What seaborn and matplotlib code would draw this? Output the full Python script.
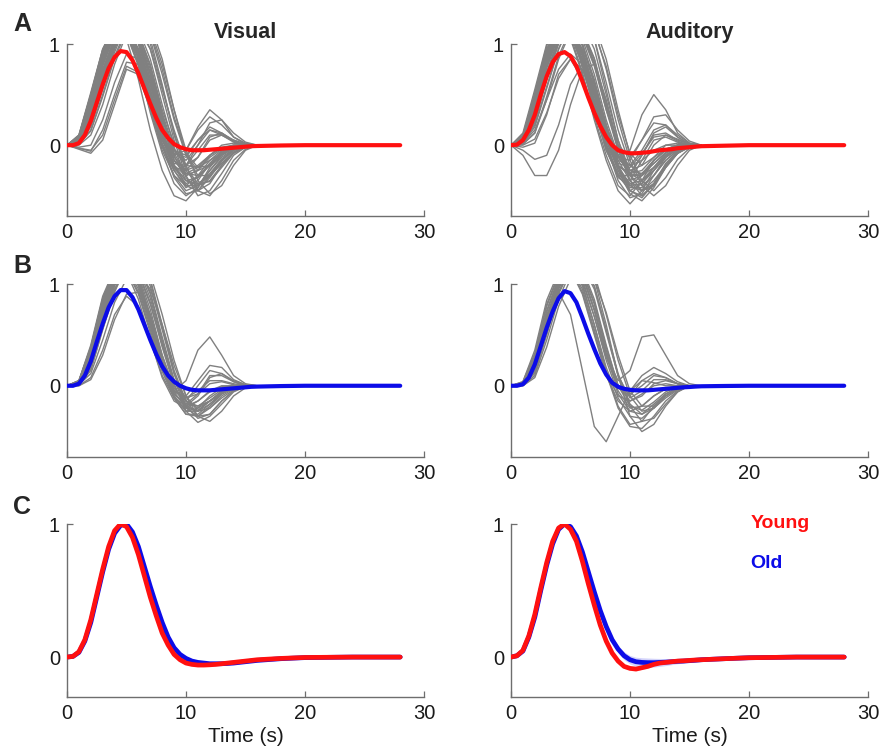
import numpy as np
import pandas as pd
from matplotlib import pyplot as plt
import seaborn as sns

# time grids (s)
T_SUBJ = list(range(0, 17))
T_MEAN = [0, 0.5, 1, 1.5, 2, 2.5, 3, 3.5, 4, 4.5, 5, 5.5, 6, 6.5, 7, 7.5, 8, 8.5,
          9, 9.5, 10, 10.5, 11, 11.5, 12, 12.5, 13, 13.5, 14, 14.5, 15, 15.5, 16,
          18, 20, 24, 28]

# ---- single-subject HRFs at 1 s steps (0..16 s) ----
VIS_YOUNG_SUBJ = [
    [0, 0.10, 0.50, 0.95, 1.20, 1.15, 0.85, 0.40, 0.00, -0.30, -0.45, -0.40, -0.25, -0.12, -0.04, 0.00, 0.00],
    [0, 0.05, 0.35, 0.80, 1.10, 1.20, 1.00, 0.60, 0.15, -0.20, -0.40, -0.45, -0.32, -0.16, -0.05, -0.01, 0.00],
    [0, 0.03, 0.25, 0.65, 1.00, 1.25, 1.25, 1.05, 0.60, 0.10, -0.25, -0.40, -0.35, -0.20, -0.07, -0.01, 0.00],
    [0, 0.06, 0.40, 0.85, 1.15, 1.20, 1.05, 0.70, 0.25, -0.05, -0.10, 0.05, 0.15, 0.10, 0.03, 0.00, 0.00],
    [0, 0.02, 0.20, 0.60, 0.95, 1.20, 1.30, 1.20, 0.85, 0.35, -0.10, -0.30, -0.30, -0.18, -0.07, -0.02, 0.00],
    [0, 0.08, 0.45, 0.90, 1.15, 1.10, 0.80, 0.35, -0.05, -0.30, -0.40, -0.30, -0.15, -0.05, -0.01, 0.00, 0.00],
    [0, 0.04, 0.30, 0.75, 1.05, 1.15, 0.95, 0.55, 0.10, -0.10, -0.05, 0.15, 0.28, 0.20, 0.08, 0.02, 0.00],
    [0, -0.04, -0.08, 0.05, 0.40, 0.75, 0.70, 0.35, 0.00, -0.25, -0.40, -0.40, -0.28, -0.14, -0.05, -0.01, 0.00],
    [0, -0.03, -0.06, 0.15, 0.50, 0.82, 0.80, 0.45, 0.05, -0.20, -0.30, -0.25, -0.12, -0.04, 0.00, 0.00, 0.00],
    [0, 0.00, 0.10, 0.40, 0.80, 1.10, 1.15, 0.95, 0.55, 0.15, -0.20, -0.45, -0.50, -0.35, -0.15, -0.04, 0.00],
    [0, 0.07, 0.42, 0.88, 1.15, 1.15, 0.90, 0.50, 0.10, -0.20, -0.35, -0.38, -0.30, -0.18, -0.08, -0.02, 0.00],
    [0, 0.05, 0.33, 0.78, 1.10, 1.20, 1.10, 0.80, 0.35, 0.02, -0.05, 0.18, 0.35, 0.25, 0.08, 0.01, 0.00],
    [0, 0.02, 0.22, 0.62, 0.98, 1.20, 1.20, 0.95, 0.50, 0.05, -0.30, -0.50, -0.45, -0.28, -0.10, -0.02, 0.00],
    [0, 0.09, 0.48, 0.92, 1.18, 1.12, 0.82, 0.38, -0.02, -0.25, -0.20, 0.00, 0.15, 0.12, 0.04, 0.00, 0.00],
    [0, 0.01, 0.15, 0.50, 0.88, 1.15, 1.25, 1.15, 0.80, 0.35, -0.05, -0.35, -0.48, -0.40, -0.20, -0.05, 0.00],
    [0, 0.06, 0.38, 0.84, 1.12, 1.15, 0.95, 0.60, 0.20, -0.05, -0.20, -0.22, -0.15, -0.08, -0.02, 0.00, 0.00],
    [0, 0.04, 0.28, 0.72, 1.05, 1.20, 1.10, 0.75, 0.30, -0.10, -0.35, -0.40, -0.30, -0.15, -0.05, 0.00, 0.00],
    [0, 0.03, 0.26, 0.68, 1.02, 1.18, 1.05, 0.70, 0.25, -0.05, -0.15, 0.00, 0.22, 0.25, 0.12, 0.03, 0.00],
    [0, 0.10, 0.52, 0.95, 1.15, 1.05, 0.65, 0.15, -0.25, -0.50, -0.55, -0.42, -0.22, -0.08, -0.02, 0.00, 0.00],
    [0, -0.02, 0.00, 0.25, 0.62, 0.90, 0.85, 0.50, 0.10, -0.15, -0.25, -0.20, -0.10, -0.03, 0.00, 0.00, 0.00],
    [0, 0.05, 0.36, 0.82, 1.12, 1.22, 1.05, 0.65, 0.20, -0.15, -0.30, -0.25, -0.10, 0.00, 0.02, 0.00, 0.00],
    [0, 0.02, 0.18, 0.55, 0.92, 1.20, 1.28, 1.10, 0.70, 0.25, -0.10, -0.25, -0.20, -0.10, -0.03, 0.00, 0.00],
    [0, 0.06, 0.40, 0.86, 1.14, 1.16, 0.92, 0.50, 0.08, -0.25, -0.42, -0.35, -0.18, -0.06, -0.01, 0.00, 0.00],
    [0, 0.04, 0.30, 0.74, 1.06, 1.18, 1.00, 0.62, 0.18, -0.08, -0.12, 0.05, 0.18, 0.12, 0.04, 0.00, 0.00],
    [0, 0.06, 0.42, 0.90, 1.18, 1.18, 0.95, 0.55, 0.12, -0.22, -0.38, -0.32, -0.18, -0.07, -0.01, 0.00, 0.00],
    [0, 0.03, 0.24, 0.66, 1.00, 1.20, 1.15, 0.85, 0.40, -0.02, -0.32, -0.45, -0.38, -0.20, -0.07, -0.01, 0.00],
    [0, 0.08, 0.46, 0.92, 1.16, 1.14, 0.88, 0.45, 0.05, -0.18, -0.20, -0.05, 0.10, 0.10, 0.04, 0.00, 0.00],
    [0, 0.02, 0.20, 0.58, 0.96, 1.22, 1.22, 1.00, 0.58, 0.12, -0.22, -0.38, -0.36, -0.22, -0.08, -0.02, 0.00],
    [0, 0.05, 0.34, 0.80, 1.10, 1.18, 1.02, 0.66, 0.22, -0.12, -0.25, -0.12, 0.08, 0.12, 0.05, 0.01, 0.00],
    [0, -0.03, -0.05, 0.10, 0.45, 0.78, 0.72, 0.38, 0.02, -0.22, -0.35, -0.32, -0.20, -0.08, -0.02, 0.00, 0.00],
    [0, 0.07, 0.44, 0.90, 1.16, 1.12, 0.86, 0.42, 0.00, -0.32, -0.48, -0.45, -0.30, -0.14, -0.04, 0.00, 0.00],
    [0, 0.04, 0.30, 0.74, 1.06, 1.20, 1.08, 0.72, 0.28, -0.08, -0.28, -0.30, -0.20, -0.09, -0.02, 0.00, 0.00],
    [0, 0.01, 0.14, 0.48, 0.86, 1.12, 1.22, 1.12, 0.75, 0.28, -0.08, -0.22, -0.20, -0.10, -0.03, 0.00, 0.00],
    [0, 0.06, 0.38, 0.85, 1.14, 1.16, 0.94, 0.55, 0.14, -0.15, -0.28, -0.22, -0.10, -0.02, 0.00, 0.00, 0.00],
    [0, 0.03, 0.26, 0.70, 1.04, 1.20, 1.12, 0.78, 0.32, -0.04, -0.20, -0.12, 0.05, 0.10, 0.05, 0.01, 0.00],
    [0, 0.09, 0.50, 0.94, 1.18, 1.10, 0.78, 0.32, -0.08, -0.38, -0.50, -0.42, -0.25, -0.10, -0.02, 0.00, 0.00],
]

AUD_YOUNG_SUBJ = [
    [0, -0.10, -0.30, -0.30, -0.05, 0.40, 0.75, 0.80, 0.45, 0.00, -0.35, -0.50, -0.40, -0.20, -0.06, -0.01, 0.00],
    [0, -0.05, -0.14, -0.10, 0.20, 0.60, 0.80, 0.60, 0.20, -0.15, -0.35, -0.30, -0.15, -0.05, 0.00, 0.00, 0.00],
    [0, 0.12, 0.55, 1.00, 1.20, 1.05, 0.70, 0.25, -0.15, -0.45, -0.58, -0.45, -0.25, -0.10, -0.02, 0.00, 0.00],
    [0, 0.06, 0.40, 0.88, 1.15, 1.20, 1.00, 0.60, 0.15, -0.10, -0.05, 0.30, 0.50, 0.35, 0.12, 0.02, 0.00],
    [0, 0.03, 0.25, 0.70, 1.05, 1.25, 1.25, 1.05, 0.55, 0.05, -0.30, -0.45, -0.40, -0.22, -0.08, -0.01, 0.00],
    [0, 0.08, 0.45, 0.92, 1.18, 1.12, 0.80, 0.35, -0.05, -0.30, -0.35, -0.15, 0.05, 0.08, 0.03, 0.00, 0.00],
    [0, 0.05, 0.35, 0.80, 1.10, 1.18, 1.00, 0.65, 0.20, -0.20, -0.45, -0.52, -0.38, -0.18, -0.06, -0.01, 0.00],
    [0, 0.02, 0.15, 0.45, 0.75, 0.90, 0.80, 0.50, 0.15, -0.10, -0.20, -0.15, -0.05, 0.00, 0.00, 0.00, 0.00],
    [0, 0.10, 0.50, 0.95, 1.18, 1.10, 0.78, 0.35, -0.05, -0.30, -0.30, -0.10, 0.10, 0.12, 0.05, 0.01, 0.00],
    [0, 0.04, 0.30, 0.76, 1.08, 1.20, 1.10, 0.80, 0.35, -0.05, -0.30, -0.40, -0.30, -0.15, -0.05, -0.01, 0.00],
    [0, 0.01, 0.12, 0.45, 0.85, 1.12, 1.25, 1.20, 0.85, 0.35, -0.10, -0.35, -0.45, -0.32, -0.14, -0.03, 0.00],
    [0, 0.07, 0.42, 0.90, 1.15, 1.15, 0.90, 0.50, 0.10, -0.15, -0.20, -0.05, 0.15, 0.20, 0.10, 0.02, 0.00],
    [0, 0.05, 0.32, 0.78, 1.10, 1.20, 1.05, 0.70, 0.25, -0.10, -0.30, -0.30, -0.18, -0.07, -0.01, 0.00, 0.00],
    [0, -0.02, 0.02, 0.30, 0.70, 0.85, 0.65, 0.30, 0.00, -0.20, -0.30, -0.28, -0.18, -0.08, -0.02, 0.00, 0.00],
    [0, 0.09, 0.48, 0.94, 1.18, 1.12, 0.82, 0.40, 0.00, -0.35, -0.52, -0.48, -0.30, -0.12, -0.03, 0.00, 0.00],
    [0, 0.03, 0.22, 0.65, 1.00, 1.22, 1.20, 0.95, 0.50, 0.05, -0.25, -0.20, 0.00, 0.10, 0.06, 0.01, 0.00],
    [0, 0.06, 0.38, 0.85, 1.12, 1.15, 0.92, 0.55, 0.15, -0.20, -0.40, -0.45, -0.35, -0.20, -0.08, -0.02, 0.00],
    [0, 0.04, 0.28, 0.72, 1.05, 1.18, 1.08, 0.78, 0.35, 0.00, -0.12, 0.05, 0.28, 0.30, 0.15, 0.04, 0.00],
    [0, 0.08, 0.46, 0.90, 1.15, 1.10, 0.85, 0.45, 0.05, -0.25, -0.40, -0.38, -0.25, -0.12, -0.04, 0.00, 0.00],
    [0, 0.02, 0.20, 0.58, 0.95, 1.20, 1.28, 1.15, 0.75, 0.25, -0.15, -0.40, -0.50, -0.40, -0.20, -0.05, 0.00],
    [0, 0.05, 0.34, 0.80, 1.10, 1.15, 0.95, 0.55, 0.12, -0.22, -0.45, -0.50, -0.38, -0.20, -0.07, -0.01, 0.00],
    [0, 0.07, 0.40, 0.86, 1.14, 1.14, 0.88, 0.48, 0.08, -0.18, -0.22, -0.08, 0.08, 0.10, 0.04, 0.00, 0.00],
    [0, 0.03, 0.24, 0.66, 1.02, 1.20, 1.12, 0.85, 0.40, -0.05, -0.35, -0.45, -0.38, -0.22, -0.08, -0.02, 0.00],
    [0, 0.06, 0.36, 0.82, 1.12, 1.18, 0.98, 0.62, 0.20, -0.12, -0.28, -0.25, -0.12, -0.04, 0.00, 0.00, 0.00],
    [0, 0.07, 0.44, 0.92, 1.18, 1.15, 0.85, 0.42, 0.02, -0.30, -0.45, -0.38, -0.22, -0.08, -0.01, 0.00, 0.00],
    [0, 0.04, 0.28, 0.72, 1.05, 1.20, 1.12, 0.82, 0.38, -0.02, -0.28, -0.35, -0.25, -0.12, -0.04, 0.00, 0.00],
    [0, 0.10, 0.52, 0.98, 1.20, 1.08, 0.72, 0.28, -0.10, -0.40, -0.50, -0.35, -0.15, -0.04, 0.00, 0.00, 0.00],
    [0, 0.02, 0.18, 0.56, 0.95, 1.22, 1.25, 1.05, 0.62, 0.15, -0.20, -0.30, -0.22, -0.10, -0.03, 0.00, 0.00],
    [0, 0.05, 0.36, 0.84, 1.12, 1.16, 0.94, 0.55, 0.12, -0.20, -0.28, -0.10, 0.12, 0.18, 0.08, 0.01, 0.00],
    [0, 0.00, 0.06, 0.32, 0.66, 0.85, 0.75, 0.42, 0.05, -0.22, -0.38, -0.35, -0.22, -0.10, -0.03, 0.00, 0.00],
    [0, 0.08, 0.48, 0.94, 1.18, 1.12, 0.84, 0.42, 0.00, -0.28, -0.42, -0.42, -0.30, -0.15, -0.05, 0.00, 0.00],
    [0, 0.03, 0.24, 0.68, 1.02, 1.20, 1.14, 0.86, 0.42, 0.00, -0.25, -0.28, -0.15, -0.04, 0.00, 0.00, 0.00],
    [0, 0.06, 0.40, 0.86, 1.14, 1.16, 0.92, 0.52, 0.10, -0.25, -0.48, -0.55, -0.42, -0.22, -0.08, -0.01, 0.00],
    [0, 0.01, 0.12, 0.48, 0.88, 1.15, 1.22, 1.12, 0.78, 0.30, -0.08, -0.20, -0.12, 0.00, 0.02, 0.00, 0.00],
    [0, 0.05, 0.33, 0.80, 1.10, 1.18, 1.00, 0.62, 0.18, -0.12, -0.15, 0.05, 0.22, 0.20, 0.08, 0.01, 0.00],
    [0, 0.09, 0.48, 0.94, 1.18, 1.10, 0.80, 0.38, -0.02, -0.32, -0.40, -0.30, -0.15, -0.05, 0.00, 0.00, 0.00],
]

VIS_OLD_SUBJ = [
    [0, 0.02, 0.25, 0.70, 1.05, 1.20, 1.05, 0.65, 0.20, -0.10, -0.25, -0.25, -0.15, -0.05, 0.00, 0.00, 0.00],
    [0, 0.05, 0.38, 0.85, 1.12, 1.15, 0.92, 0.55, 0.15, -0.05, 0.05, 0.35, 0.48, 0.30, 0.10, 0.02, 0.00],
    [0, 0.01, 0.15, 0.55, 0.92, 1.18, 1.25, 1.10, 0.70, 0.25, -0.10, -0.30, -0.35, -0.25, -0.10, -0.02, 0.00],
    [0, 0.03, 0.28, 0.75, 1.08, 1.18, 1.00, 0.60, 0.18, -0.12, -0.28, -0.30, -0.20, -0.08, -0.02, 0.00, 0.00],
    [0, 0.00, 0.08, 0.35, 0.70, 0.88, 0.78, 0.45, 0.10, -0.12, -0.20, -0.15, -0.06, -0.01, 0.00, 0.00, 0.00],
    [0, 0.04, 0.32, 0.80, 1.10, 1.20, 1.10, 0.80, 0.40, 0.05, -0.15, -0.20, -0.15, -0.08, -0.02, 0.00, 0.00],
    [0, 0.02, 0.20, 0.62, 1.00, 1.22, 1.25, 1.05, 0.60, 0.15, -0.15, -0.30, -0.28, -0.15, -0.05, 0.00, 0.00],
    [0, 0.05, 0.40, 0.88, 1.15, 1.12, 0.85, 0.45, 0.08, -0.15, -0.22, -0.15, -0.05, 0.00, 0.00, 0.00, 0.00],
    [0, 0.03, 0.26, 0.72, 1.06, 1.20, 1.08, 0.75, 0.30, -0.05, -0.15, 0.00, 0.15, 0.12, 0.04, 0.00, 0.00],
    [0, 0.01, 0.12, 0.45, 0.82, 1.05, 1.10, 0.95, 0.60, 0.20, -0.10, -0.25, -0.22, -0.12, -0.04, 0.00, 0.00],
    [0, 0.04, 0.34, 0.82, 1.12, 1.18, 0.98, 0.62, 0.22, -0.08, -0.20, -0.10, 0.08, 0.12, 0.05, 0.01, 0.00],
    [0, 0.02, 0.22, 0.66, 1.02, 1.22, 1.18, 0.90, 0.45, 0.02, -0.25, -0.36, -0.30, -0.18, -0.06, -0.01, 0.00],
    [0, 0.03, 0.30, 0.78, 1.10, 1.20, 1.05, 0.68, 0.25, -0.05, -0.12, -0.05, 0.05, 0.05, 0.02, 0.00, 0.00],
    [0, 0.00, 0.06, 0.30, 0.65, 0.90, 0.92, 0.70, 0.30, -0.02, -0.18, -0.20, -0.12, -0.04, 0.00, 0.00, 0.00],
    [0, 0.05, 0.36, 0.84, 1.12, 1.16, 0.95, 0.58, 0.18, -0.10, -0.25, -0.22, -0.10, -0.02, 0.00, 0.00, 0.00],
    [0, 0.02, 0.18, 0.58, 0.95, 1.18, 1.22, 1.02, 0.58, 0.12, -0.20, -0.32, -0.28, -0.15, -0.05, 0.00, 0.00],
    [0, 0.04, 0.30, 0.76, 1.08, 1.18, 1.02, 0.66, 0.24, -0.06, -0.10, 0.05, 0.20, 0.18, 0.06, 0.01, 0.00],
    [0, 0.03, 0.24, 0.68, 1.04, 1.20, 1.12, 0.82, 0.38, 0.00, -0.20, -0.25, -0.18, -0.08, -0.02, 0.00, 0.00],
    [0, 0.03, 0.28, 0.74, 1.08, 1.20, 1.06, 0.70, 0.26, -0.06, -0.22, -0.24, -0.15, -0.06, -0.01, 0.00, 0.00],
    [0, 0.02, 0.22, 0.64, 1.00, 1.20, 1.15, 0.86, 0.42, 0.04, -0.12, -0.08, 0.02, 0.04, 0.01, 0.00, 0.00],
    [0, 0.05, 0.38, 0.86, 1.14, 1.14, 0.90, 0.52, 0.14, -0.12, -0.28, -0.28, -0.18, -0.07, -0.01, 0.00, 0.00],
    [0, 0.01, 0.16, 0.56, 0.94, 1.18, 1.20, 0.98, 0.55, 0.12, -0.15, -0.22, -0.15, -0.06, -0.01, 0.00, 0.00],
    [0, 0.04, 0.32, 0.78, 1.10, 1.18, 1.00, 0.64, 0.22, -0.08, -0.18, -0.08, 0.10, 0.10, 0.04, 0.00, 0.00],
    [0, 0.02, 0.20, 0.60, 0.98, 1.20, 1.18, 0.92, 0.48, 0.06, -0.22, -0.30, -0.22, -0.10, -0.03, 0.00, 0.00],
]

AUD_OLD_SUBJ = [
    [0, 0.02, 0.25, 0.70, 0.92, 0.70, 0.15, -0.40, -0.55, -0.30, -0.05, 0.05, 0.03, 0.00, 0.00, 0.00, 0.00],
    [0, 0.02, 0.20, 0.62, 1.00, 1.20, 1.10, 0.75, 0.30, 0.05, 0.15, 0.48, 0.50, 0.30, 0.10, 0.02, 0.00],
    [0, 0.01, 0.15, 0.55, 0.95, 1.20, 1.25, 1.05, 0.60, 0.10, -0.30, -0.45, -0.38, -0.20, -0.06, 0.00, 0.00],
    [0, 0.03, 0.30, 0.78, 1.08, 1.18, 1.00, 0.60, 0.15, -0.20, -0.38, -0.35, -0.20, -0.08, -0.02, 0.00, 0.00],
    [0, 0.00, 0.10, 0.45, 0.85, 1.12, 1.22, 1.10, 0.70, 0.25, -0.10, -0.25, -0.22, -0.12, -0.04, 0.00, 0.00],
    [0, 0.02, 0.22, 0.66, 1.02, 1.18, 1.08, 0.75, 0.32, 0.00, -0.05, 0.10, 0.18, 0.12, 0.04, 0.00, 0.00],
    [0, 0.04, 0.35, 0.84, 1.12, 1.14, 0.90, 0.50, 0.10, -0.15, -0.25, -0.20, -0.10, -0.03, 0.00, 0.00, 0.00],
    [0, 0.01, 0.12, 0.50, 0.90, 1.15, 1.18, 0.98, 0.55, 0.10, -0.20, -0.35, -0.32, -0.18, -0.06, 0.00, 0.00],
    [0, 0.02, 0.20, 0.60, 0.98, 1.20, 1.15, 0.85, 0.40, 0.00, -0.15, -0.10, 0.02, 0.05, 0.02, 0.00, 0.00],
    [0, 0.03, 0.26, 0.72, 1.05, 1.15, 0.95, 0.55, 0.12, -0.22, -0.40, -0.42, -0.30, -0.15, -0.05, 0.00, 0.00],
    [0, 0.00, 0.08, 0.38, 0.78, 1.05, 1.15, 1.05, 0.72, 0.30, -0.05, -0.20, -0.20, -0.10, -0.03, 0.00, 0.00],
    [0, 0.02, 0.18, 0.58, 0.96, 1.18, 1.12, 0.80, 0.35, -0.02, -0.10, 0.05, 0.12, 0.08, 0.02, 0.00, 0.00],
    [0, 0.04, 0.32, 0.80, 1.10, 1.15, 0.92, 0.52, 0.12, -0.10, -0.15, -0.08, 0.00, 0.02, 0.00, 0.00, 0.00],
    [0, 0.01, 0.14, 0.52, 0.92, 1.16, 1.20, 0.98, 0.55, 0.12, -0.18, -0.28, -0.22, -0.10, -0.03, 0.00, 0.00],
    [0, 0.03, 0.24, 0.68, 1.04, 1.18, 1.05, 0.68, 0.25, -0.08, -0.25, -0.28, -0.18, -0.08, -0.02, 0.00, 0.00],
    [0, 0.02, 0.20, 0.62, 0.98, 1.15, 1.02, 0.68, 0.28, 0.00, -0.08, 0.00, 0.10, 0.08, 0.02, 0.00, 0.00],
    [0, 0.02, 0.22, 0.64, 1.00, 1.18, 1.08, 0.74, 0.30, -0.05, -0.22, -0.20, -0.10, -0.03, 0.00, 0.00, 0.00],
    [0, 0.03, 0.28, 0.74, 1.06, 1.16, 0.98, 0.60, 0.18, -0.12, -0.30, -0.32, -0.22, -0.10, -0.03, 0.00, 0.00],
    [0, 0.01, 0.14, 0.52, 0.92, 1.15, 1.18, 0.95, 0.52, 0.10, -0.12, -0.05, 0.06, 0.06, 0.02, 0.00, 0.00],
    [0, 0.02, 0.18, 0.58, 0.96, 1.18, 1.12, 0.82, 0.38, 0.00, -0.20, -0.24, -0.16, -0.06, -0.01, 0.00, 0.00],
]

# ---- group means (0.5 s steps to 16 s, then 18/20/24/28 s) ----
VIS_YOUNG_MEAN = [0.0, 0.0, 0.02, 0.10, 0.24, 0.42, 0.60, 0.76, 0.87, 0.93, 0.92, 0.84, 0.71, 0.56, 0.41, 0.27,
                  0.15, 0.07, 0.01, -0.02, -0.04, -0.05, -0.05, -0.05, -0.045, -0.04, -0.035, -0.03, -0.025,
                  -0.02, -0.015, -0.01, -0.008, -0.003, 0.0, 0.0, 0.0]
AUD_YOUNG_MEAN = [0.0, 0.005, 0.05, 0.15, 0.30, 0.50, 0.68, 0.82, 0.90, 0.92, 0.88, 0.78, 0.63, 0.47, 0.32, 0.19,
                  0.08, 0.0, -0.05, -0.07, -0.08, -0.08, -0.075, -0.07, -0.06, -0.05, -0.045, -0.04, -0.03,
                  -0.025, -0.02, -0.015, -0.01, -0.005, 0.0, 0.0, 0.0]
VIS_OLD_MEAN = [0.0, 0.0, 0.02, 0.10, 0.24, 0.43, 0.61, 0.77, 0.88, 0.94, 0.94, 0.87, 0.75, 0.60, 0.45, 0.31,
                0.19, 0.10, 0.04, 0.0, -0.025, -0.04, -0.045, -0.045, -0.045, -0.04, -0.035, -0.03, -0.025,
                -0.02, -0.015, -0.01, -0.008, -0.003, 0.0, 0.0, 0.0]
AUD_OLD_MEAN = [0.0, 0.0, 0.015, 0.08, 0.21, 0.39, 0.57, 0.73, 0.86, 0.93, 0.91, 0.82, 0.67, 0.51, 0.36, 0.22,
                0.11, 0.03, -0.01, -0.03, -0.04, -0.045, -0.045, -0.045, -0.04, -0.035, -0.03, -0.025, -0.02,
                -0.015, -0.012, -0.008, -0.005, -0.002, 0.0, 0.0, 0.0]

# peak-normalised group HRFs (row C) and their standard errors
VIS_YOUNG_NORM = [0.0, 0.005, 0.04, 0.13, 0.28, 0.47, 0.66, 0.83, 0.95, 1.0, 0.98, 0.90, 0.77, 0.61, 0.45, 0.31,
                  0.18, 0.09, 0.02, -0.02, -0.045, -0.055, -0.06, -0.06, -0.058, -0.055, -0.05, -0.045, -0.04,
                  -0.035, -0.03, -0.025, -0.02, -0.01, -0.003, 0.0, 0.0]
VIS_OLD_NORM = [0.0, 0.005, 0.035, 0.12, 0.26, 0.45, 0.64, 0.81, 0.93, 0.99, 1.0, 0.94, 0.83, 0.68, 0.53, 0.39,
                0.26, 0.15, 0.07, 0.02, -0.01, -0.03, -0.04, -0.045, -0.05, -0.05, -0.05, -0.048, -0.045,
                -0.04, -0.035, -0.03, -0.025, -0.012, -0.004, 0.0, 0.0]
AUD_YOUNG_NORM = [0.0, 0.01, 0.05, 0.16, 0.32, 0.52, 0.71, 0.87, 0.97, 1.0, 0.96, 0.87, 0.72, 0.55, 0.39, 0.24,
                  0.12, 0.03, -0.03, -0.07, -0.085, -0.09, -0.08, -0.07, -0.055, -0.045, -0.04, -0.035, -0.03,
                  -0.028, -0.025, -0.022, -0.02, -0.012, -0.005, 0.0, 0.0]
AUD_OLD_NORM = [0.0, 0.01, 0.045, 0.15, 0.30, 0.50, 0.69, 0.85, 0.96, 1.0, 0.98, 0.91, 0.79, 0.64, 0.49, 0.35,
                0.23, 0.13, 0.06, 0.01, -0.02, -0.035, -0.04, -0.042, -0.042, -0.04, -0.038, -0.035, -0.032,
                -0.03, -0.027, -0.024, -0.02, -0.012, -0.005, 0.0, 0.0]

VIS_YOUNG_SEM = [0, 0.002, 0.004, 0.006, 0.008, 0.01, 0.01, 0.01, 0.008, 0.005, 0.005, 0.008, 0.01, 0.01, 0.012,
                 0.012, 0.012, 0.012, 0.012, 0.012, 0.012, 0.012, 0.01, 0.01, 0.01, 0.008, 0.008, 0.006, 0.006,
                 0.005, 0.004, 0.004, 0.003, 0.002, 0.001, 0.0, 0.0]
VIS_OLD_SEM = [0, 0.002, 0.005, 0.008, 0.01, 0.012, 0.012, 0.012, 0.01, 0.006, 0.006, 0.01, 0.012, 0.014, 0.016,
               0.018, 0.018, 0.018, 0.018, 0.018, 0.018, 0.018, 0.016, 0.015, 0.014, 0.012, 0.01, 0.009, 0.008,
               0.007, 0.006, 0.005, 0.004, 0.003, 0.001, 0.0, 0.0]
AUD_YOUNG_SEM = [0, 0.002, 0.004, 0.006, 0.008, 0.01, 0.01, 0.01, 0.008, 0.005, 0.005, 0.008, 0.01, 0.012, 0.012,
                 0.014, 0.014, 0.014, 0.014, 0.014, 0.014, 0.014, 0.012, 0.012, 0.01, 0.01, 0.008, 0.007, 0.006,
                 0.005, 0.004, 0.004, 0.003, 0.002, 0.001, 0.0, 0.0]
AUD_OLD_SEM = [0, 0.002, 0.005, 0.01, 0.015, 0.02, 0.02, 0.02, 0.015, 0.01, 0.01, 0.015, 0.02, 0.02, 0.025,
               0.025, 0.025, 0.025, 0.028, 0.03, 0.032, 0.034, 0.035, 0.035, 0.033, 0.03, 0.026, 0.022, 0.018,
               0.015, 0.012, 0.01, 0.008, 0.005, 0.003, 0.002, 0.0]

RED = '#ff1010'
BLUE = '#0c0ce8'
GRAY = '#808080'


def subj_frame(curves):
    rows = []
    for i, curve in enumerate(curves):
        for t, v in zip(T_SUBJ, curve):
            rows.append((i, t, v))
    return pd.DataFrame(rows, columns=['subj', 't', 'hrf'])


def mean_frame(vals):
    return pd.DataFrame({'t': T_MEAN, 'hrf': vals})


def style_axes(ax, ylim):
    ax.set_xlim(0, 30)
    ax.set_ylim(*ylim)
    ax.set_xticks([0, 10, 20, 30])
    ax.set_yticks([0, 1])
    ax.set_xlabel('')
    ax.set_ylabel('')
    sns.despine(ax=ax)
    for side in ['left', 'bottom']:
        ax.spines[side].set_color('#6e6e6e')
        ax.spines[side].set_linewidth(1.0)
    ax.tick_params(direction='in', length=4, width=0.9, color='#6e6e6e',
                   labelcolor='#1a1a1a', labelsize=14.5, pad=5)


sns.set_theme(style='ticks')
plt.rcParams['font.family'] = ['Liberation Sans', 'DejaVu Sans']

fig = plt.figure(figsize=(8.81, 7.46), dpi=100)
col_x = [67 / 881, 511 / 881]
w = 357 / 881
row_y = [1 - 216 / 746, 1 - 457 / 746, 1 - 697 / 746]
h = [172 / 746, 173 / 746, 173 / 746]

axes = [[fig.add_axes([col_x[c], row_y[r], w, h[r]]) for c in range(2)] for r in range(3)]

# rows A and B: individual subjects + group mean
panels = [
    (0, 0, VIS_YOUNG_SUBJ, VIS_YOUNG_MEAN, RED),
    (0, 1, AUD_YOUNG_SUBJ, AUD_YOUNG_MEAN, RED),
    (1, 0, VIS_OLD_SUBJ, VIS_OLD_MEAN, BLUE),
    (1, 1, AUD_OLD_SUBJ, AUD_OLD_MEAN, BLUE),
]
for r, c, subj, mean, col in panels:
    ax = axes[r][c]
    sns.lineplot(data=subj_frame(subj), x='t', y='hrf', units='subj', estimator=None,
                 color=GRAY, lw=1.0, legend=False, ax=ax, zorder=1)
    sns.lineplot(data=mean_frame(mean), x='t', y='hrf', color=col, lw=3.0,
                 legend=False, ax=ax, zorder=3)
    style_axes(ax, (-0.7, 1.0))

# row C: normalised young vs old
for c, (young, ysem, old, osem) in enumerate([(VIS_YOUNG_NORM, VIS_YOUNG_SEM, VIS_OLD_NORM, VIS_OLD_SEM),
                                               (AUD_YOUNG_NORM, AUD_YOUNG_SEM, AUD_OLD_NORM, AUD_OLD_SEM)]):
    ax = axes[2][c]
    t = np.array(T_MEAN)
    ax.fill_between(t, np.array(old) - np.array(osem), np.array(old) + np.array(osem),
                    color=BLUE, alpha=0.18, lw=0, zorder=1)
    ax.fill_between(t, np.array(young) - np.array(ysem), np.array(young) + np.array(ysem),
                    color=RED, alpha=0.18, lw=0, zorder=1)
    sns.lineplot(data=mean_frame(old), x='t', y='hrf', color=BLUE, lw=3.4, legend=False, ax=ax, zorder=2)
    sns.lineplot(data=mean_frame(young), x='t', y='hrf', color=RED, lw=3.4, legend=False, ax=ax, zorder=3)
    style_axes(ax, (-0.3, 1.0))
    ax.set_xlabel('Time (s)', fontsize=15, color='#1a1a1a', labelpad=3)

axes[2][1].text(20.1, 1.0, 'Young', color=RED, fontsize=14, fontweight='bold', ha='left', va='center')
axes[2][1].text(20.1, 0.70, 'Old', color=BLUE, fontsize=14, fontweight='bold', ha='left', va='center')

axes[0][0].set_title('Visual', fontsize=15.5, fontweight='bold', pad=4)
axes[0][1].set_title('Auditory', fontsize=15.5, fontweight='bold', pad=4)

for letter, y in [('A', 24), ('B', 266), ('C', 507)]:
    fig.text(22 / 881, 1 - y / 746, letter, fontsize=18, fontweight='bold', ha='center', va='center')

fig.savefig('out.png', dpi=100)
plt.close('all')
